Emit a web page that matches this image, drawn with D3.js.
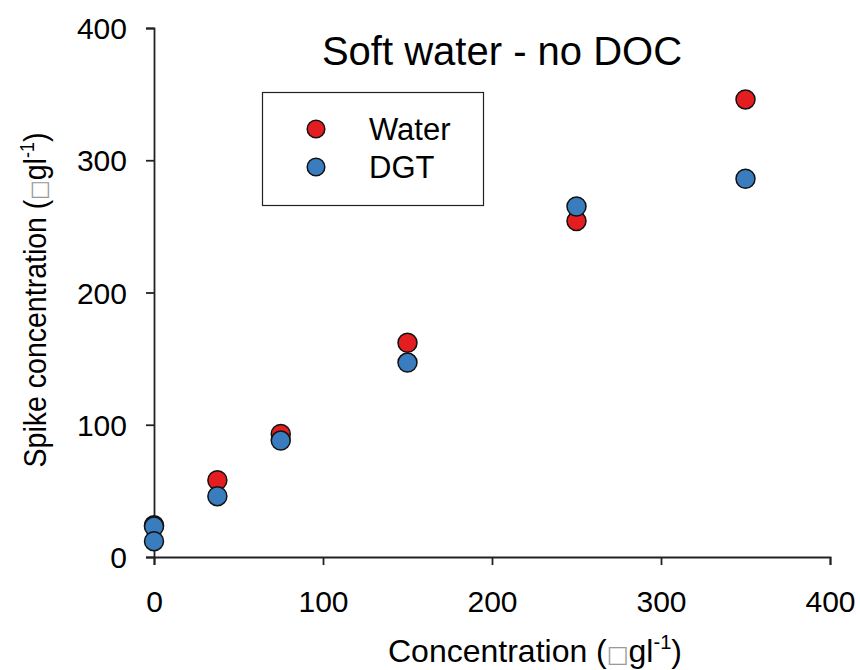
<!DOCTYPE html>
<html>
<head>
<meta charset="utf-8">
<script src="https://cdn.jsdelivr.net/npm/d3@7"></script>
<style>
  html, body { margin: 0; padding: 0; background: #fff; }
  svg { display: block; font-family: "Liberation Sans", Arial, sans-serif; }
</style>
</head>
<body>
<svg id="chart" width="860" height="670"></svg>
<script>
// ---- data ----
const waterX = [0, 37.5, 75, 150, 250, 350];
const waterY = [24, 58, 93, 162, 254, 346];
const dgtX = [0, 0, 37.5, 75, 150, 250, 350];
const dgtY = [23, 12, 46, 88, 147, 265, 286];
const xTicks = [0, 100, 200, 300, 400];
const yTicks = [0, 100, 200, 300, 400];
const seriesNames = ["Water", "DGT"];
const seriesColors = ["#e41e20", "#3a7dbf"];
const titleText = "Soft water - no DOC";
const xLabelText = "Concentration (\u25A1gl";
const yLabelText = "Spike concentration (\u25A1gl";

// ---- layout ----
const svg = d3.select("#chart");
const mLeft = 154, mRight = 830, mTop = 28, mBottom = 557;
const x = d3.scaleLinear().domain([0, 400]).range([mLeft, mRight]);
const y = d3.scaleLinear().domain([0, 400]).range([mBottom, mTop]);
const axisColor = "#222";

const xAxis = svg.append("g").attr("transform", `translate(0,${mBottom})`)
  .call(d3.axisBottom(x).tickValues(xTicks).tickSizeOuter(0).tickSize(8).tickPadding(26));
const yAxis = svg.append("g").attr("transform", `translate(${mLeft},0)`)
  .call(d3.axisLeft(y).tickValues(yTicks).tickSizeOuter(0).tickSize(8).tickPadding(19));
[xAxis, yAxis].forEach(g => {
  g.select(".domain").attr("stroke", axisColor).attr("stroke-width", 1.8);
  g.selectAll(".tick line").attr("stroke", axisColor).attr("stroke-width", 1.8);
  g.selectAll(".tick text").attr("fill", "#000").style("font-size", "30px")
    .style("font-family", "'Liberation Sans', Arial, sans-serif");
});
yAxis.selectAll(".tick text").attr("dy", "0.35em");

// ---- points ----
const water = waterX.map((v, i) => ({x: v, y: waterY[i]}));
const dgt = dgtX.map((v, i) => ({x: v, y: dgtY[i]}));
[water, dgt].forEach((data, si) => {
  svg.append("g").selectAll("circle").data(data).join("circle")
    .attr("cx", d => x(d.x)).attr("cy", d => y(d.y)).attr("r", 9.5)
    .attr("fill", seriesColors[si]).attr("stroke", "#111").attr("stroke-width", 1.5);
});

// ---- title ----
svg.append("text").attr("x", 502).attr("y", 65).attr("text-anchor", "middle")
  .style("font-size", "40px").attr("fill", "#000").text(titleText);

// ---- legend ----
const leg = svg.append("g");
leg.append("rect").attr("x", 262.5).attr("y", 92.5).attr("width", 221).attr("height", 113)
  .attr("fill", "#fff").attr("stroke", "#222").attr("stroke-width", 1.2);
seriesNames.forEach((name, i) => {
  const cy = 129 + i * 38;
  leg.append("circle").attr("cx", 316).attr("cy", cy).attr("r", 8.8)
    .attr("fill", seriesColors[i]).attr("stroke", "#111").attr("stroke-width", 1.5);
  leg.append("text").attr("x", 369).attr("y", cy + 11).style("font-size", "31px")
    .attr("fill", "#000").text(name);
});

// ---- axis labels ----
function unitLabel(g, txt, fs) {
  const t = g.append("text").attr("fill", "#000").style("font-size", fs + "px");
  const parts = txt.split("\u25A1");
  t.append("tspan").text(parts[0]);
  t.append("tspan").attr("fill", "#999").style("font-family", "'DejaVu Sans', sans-serif")
    .style("font-size", (fs * 0.72) + "px").text("\u25A1");
  t.append("tspan").text(parts[1]);
  t.append("tspan").attr("dy", -fs * 0.4).style("font-size", (fs * 0.63) + "px").text("-1");
  t.append("tspan").attr("dy", fs * 0.4).text(")");
  return t;
}
const xl = unitLabel(svg.append("g").attr("transform", "translate(535,662)"), xLabelText, 32);
xl.attr("text-anchor", "middle");
const yl = unitLabel(svg.append("g").attr("transform", "translate(46,300) rotate(-90) scale(0.92,1)"), yLabelText, 31);
yl.attr("text-anchor", "middle");
</script>
</body>
</html>
